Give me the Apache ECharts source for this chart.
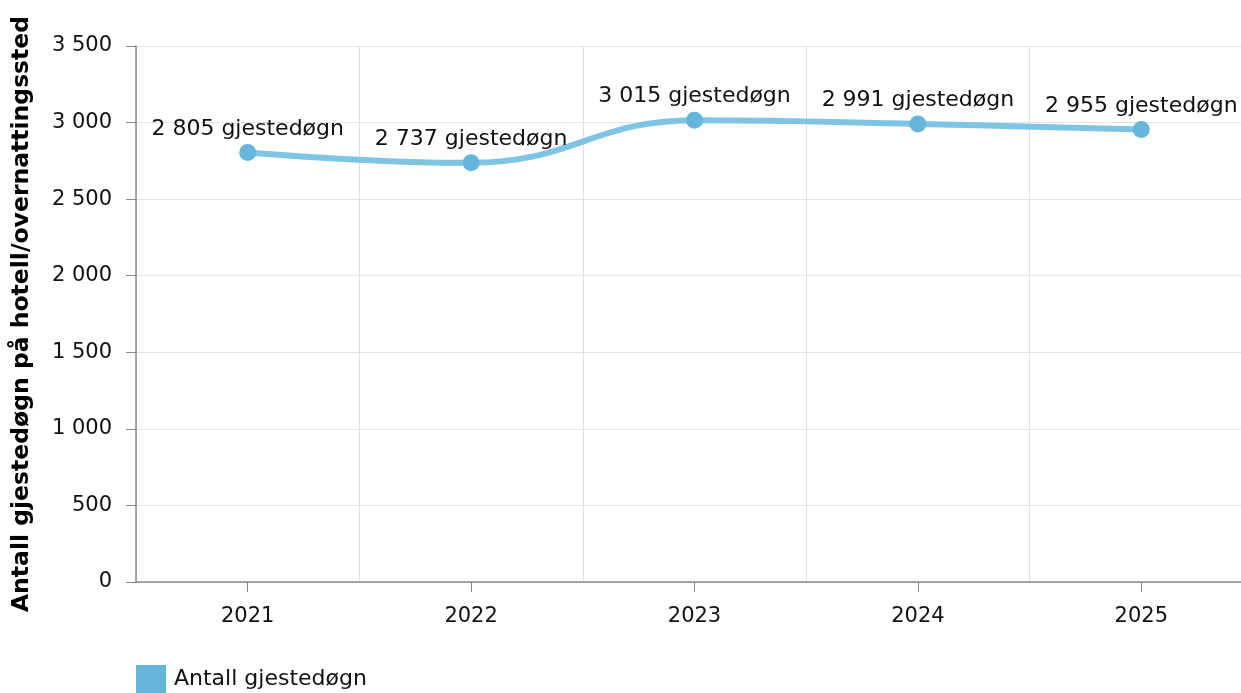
<!DOCTYPE html>
<html><head><meta charset="utf-8">
<script src="https://cdn.jsdelivr.net/npm/echarts@6/dist/echarts.min.js"></script>
<style>html,body{margin:0;padding:0;background:#fff}#c{width:1241px;height:693px}</style>
</head><body><div id="c"></div>
<script>
const years = ['2021','2022','2023','2024','2025'];
const guestNights = [2805, 2737, 3015, 2991, 2955];
const seriesName = 'Antall gjestedøgn';
const yAxisTitle = 'Antall gjestedøgn på hotell/overnattingssted';
const labelUnit = 'gjestedøgn';
const fmt = v => String(v).replace(/\B(?=(\d{3})+(?!\d))/g, ' ');
const font = 'DejaVu Sans, Verdana, sans-serif';
const chart = echarts.init(document.getElementById('c'), null, {renderer:'canvas'});
chart.setOption({
  animation:false,
  textStyle:{fontFamily:font},
  grid:{left:136, right:-12, top:46, bottom:111, containLabel:false, outerBoundsMode:'none'},
  legend:{left:136, bottom:0, padding:0, itemWidth:30, itemHeight:28, itemGap:10,
    icon:'rect', textStyle:{fontSize:22, color:'#111', fontFamily:font, padding:[0,0,0,3]},
    data:[{name:seriesName, itemStyle:{color:'#65b5dd'}}]},
  xAxis:{type:'category', data:years, boundaryGap:true,
    axisLine:{show:true, lineStyle:{color:'#888', width:1.5}},
    axisTick:{show:true, alignWithLabel:true, length:10, lineStyle:{color:'#888'}},
    axisLabel:{fontSize:21, color:'#111', margin:24, fontFamily:font},
    splitLine:{show:true, lineStyle:{color:'#e0e0e0'}}},
  yAxis:{type:'value', min:0, max:3500, interval:500,
    name:yAxisTitle, nameLocation:'middle', nameGap:102, nameRotate:90,
    nameTextStyle:{fontSize:23.5, fontWeight:'bold', color:'#000', fontFamily:font},
    axisLine:{show:true, lineStyle:{color:'#888', width:1.5}},
    axisTick:{show:true, length:10, lineStyle:{color:'#888'}},
    axisLabel:{fontSize:21, color:'#111', margin:24, formatter:fmt, fontFamily:font},
    splitLine:{show:true, lineStyle:{color:'#e4e4e4'}}},
  series:[{name:seriesName, type:'line', data:guestNights, smooth:0.45,
    symbol:'circle', symbolSize:17,
    itemStyle:{color:'#65b5dd'},
    lineStyle:{color:'#80c4e4', width:6},
    label:{show:true, position:'top', distance:4, fontSize:22, color:'#111', fontFamily:font,
      formatter:p => fmt(p.value) + ' ' + labelUnit}}]
});
</script></body></html>
